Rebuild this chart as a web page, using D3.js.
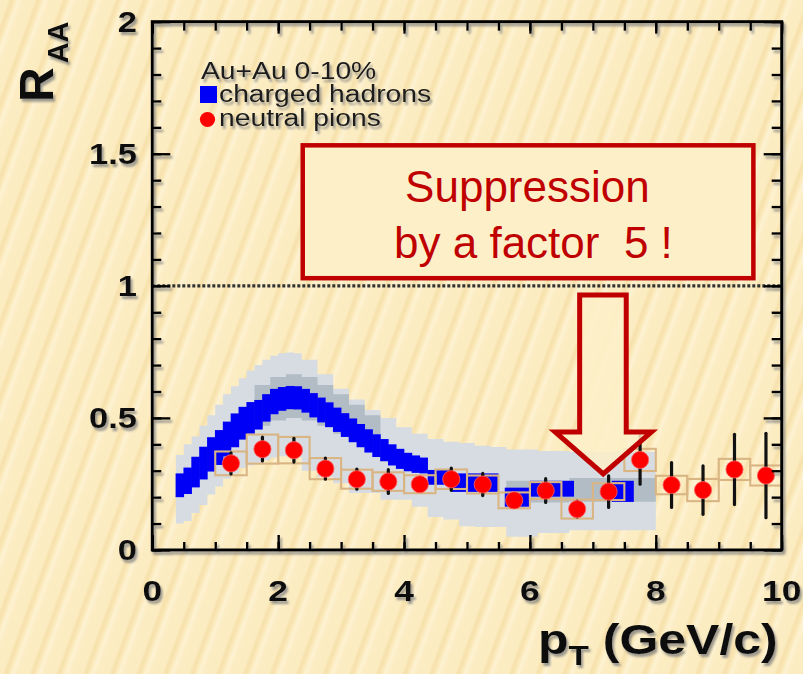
<!DOCTYPE html>
<html>
<head>
<meta charset="utf-8">
<script src="https://cdn.jsdelivr.net/npm/d3@7"></script>
<style>
  html, body { margin: 0; padding: 0; background: #fcecc0; }
  svg { display: block; }
  text { font-family: "Liberation Sans", Arial, Helvetica, sans-serif; }
</style>
</head>
<body>
<svg id="chart" width="803" height="674"></svg>
<script>
// ---- neutral pions (0.5 GeV/c bins) ----
const pionPt   = [1.25, 1.75, 2.25, 2.75, 3.25, 3.75, 4.25, 4.75, 5.25, 5.75, 6.25, 6.75, 7.25, 7.75, 8.25, 8.75, 9.25, 9.75];
const pionRaa  = [0.328, 0.382, 0.378, 0.308, 0.268, 0.259, 0.249, 0.268, 0.248, 0.188, 0.225, 0.155, 0.221, 0.341, 0.246, 0.227, 0.305, 0.282];
const pionStat = [0.040, 0.045, 0.045, 0.040, 0.038, 0.045, 0.020, 0.042, 0.042, 0.020, 0.045, 0.030, 0.060, 0.092, 0.085, 0.092, 0.133, 0.160];
const pionSys  = [0.045, 0.055, 0.050, 0.040, 0.036, 0.035, 0.034, 0.037, 0.034, 0.030, 0.032, 0.036, 0.032, 0.042, 0.035, 0.042, 0.040, 0.038];
const pionBinWidth = 0.5;

// ---- charged hadrons, fine bins ----
const hadronPt = [0.4375, 0.5625, 0.6875, 0.8125, 0.9375, 1.0625, 1.1875, 1.3125, 1.4375, 1.5625,
                  1.6875, 1.8125, 1.9375, 2.0625, 2.1875, 2.3125, 2.4375, 2.5625, 2.6875, 2.8125,
                  2.9375, 3.0625, 3.1875, 3.3125, 3.4375, 3.5625, 3.6875, 3.8125, 3.9375, 4.0625,
                  4.1875, 4.3125];
const hadronRaa = [0.245, 0.262, 0.295, 0.329, 0.362, 0.388, 0.420, 0.453, 0.480, 0.500,
                   0.512, 0.538, 0.562, 0.572, 0.577, 0.576, 0.565, 0.548, 0.530, 0.512,
                   0.493, 0.473, 0.453, 0.433, 0.413, 0.395, 0.378, 0.360, 0.345, 0.333,
                   0.325, 0.320];
const hadronStat = [0.045, 0.050, 0.058, 0.062, 0.065, 0.066, 0.066, 0.064, 0.062, 0.060,
                    0.056, 0.052, 0.048, 0.045, 0.044, 0.044, 0.045, 0.046, 0.047, 0.047,
                    0.046, 0.045, 0.045, 0.044, 0.044, 0.043, 0.042, 0.040, 0.038, 0.035,
                    0.033, 0.030];
const hadronBinWidth = 0.125;

// ---- charged hadrons, coarse bins (low/high edges) ----
const hadronHiLo   = [4.375, 4.75, 5.6, 6.0, 7.3];
const hadronHiHi   = [4.75, 5.5, 6.0, 6.7, 7.65];
const hadronHiRaa  = [0.275, 0.255, 0.200, 0.232, 0.222];
const hadronHiStat = [0.028, 0.035, 0.036, 0.030, 0.040];

// ---- charged hadron systematic band (outer), step edges ----
const bandEdge = [0.375, 0.5, 0.625, 0.75, 0.875, 1.0, 1.125, 1.25, 1.375, 1.5, 1.625, 1.75, 1.875, 2.0,
                  2.125, 2.25, 2.375, 2.625, 2.875, 3.125, 3.375, 3.625, 3.875, 4.125, 4.375, 4.625,
                  4.875, 5.125, 5.375, 5.625, 6.125, 6.625, 8.0];
const bandLo = [0.100, 0.110, 0.140, 0.170, 0.210, 0.240, 0.270, 0.290, 0.310, 0.320, 0.330, 0.340,
                0.350, 0.355, 0.355, 0.350, 0.300, 0.275, 0.253, 0.216, 0.216, 0.190, 0.190, 0.164,
                0.125, 0.115, 0.090, 0.087, 0.087, 0.050, 0.064, 0.075];
const bandHi = [0.360, 0.400, 0.430, 0.470, 0.510, 0.550, 0.590, 0.620, 0.650, 0.680, 0.700, 0.720,
                0.735, 0.745, 0.748, 0.745, 0.720, 0.665, 0.610, 0.570, 0.530, 0.500, 0.465, 0.440,
                0.420, 0.410, 0.405, 0.395, 0.390, 0.380, 0.375, 0.372];

// ---- inner (darker) band segments ----
const innerEdgeA = [1.625, 1.875, 2.125, 2.375, 2.625, 2.875, 3.125, 3.375, 3.625];
const innerLoA   = [0.470, 0.490, 0.500, 0.490, 0.470, 0.440, 0.410, 0.370];
const innerHiA   = [0.625, 0.655, 0.665, 0.655, 0.625, 0.590, 0.550, 0.510];
const innerEdgeB = [5.625, 6.625, 8.0];
const innerLoB   = [0.180, 0.183];
const innerHiB   = [0.262, 0.273];

// ---- axis, legend and annotation text ----
const xLabel = "p", xLabelSub = "T", xLabelUnit = " (GeV/c)";
const yLabel = "R", yLabelSub = "AA";
const legendTitle = "Au+Au 0-10%";
const legendItems = ["charged hadrons", "neutral pions"];
const noteLines = ["Suppression", "by a factor  5 !"];
const xDomain = [0, 10], yDomain = [0, 2];

// ---------------------------------------------------------------
const svg = d3.select("#chart");
const W = 803, H = 674;
const plot = { left: 152.3, right: 781.7, top: 21.7, bottom: 550 };

const x = d3.scaleLinear().domain(xDomain).range([plot.left, plot.right]);
const y = d3.scaleLinear().domain(yDomain).range([plot.bottom, plot.top]);

const defs = svg.append("defs");

// soft diagonal stripes of the slide background
const grad = defs.append("linearGradient").attr("id", "stripeGrad")
  .attr("x1", 0).attr("x2", 1).attr("y1", 0).attr("y2", 0);
[[0, "#fcecc1"], [0.30, "#fcecc1"], [0.44, "#f6e0aa"], [0.56, "#fbe9ba"], [0.70, "#fdf2d2"], [0.84, "#fcedc5"], [1, "#fcecc1"]]
  .forEach(([o, c]) => grad.append("stop").attr("offset", o).attr("stop-color", c));
const pat = defs.append("pattern").attr("id", "stripes")
  .attr("patternUnits", "userSpaceOnUse").attr("width", 25).attr("height", 40)
  .attr("patternTransform", "rotate(20)");
pat.append("rect").attr("width", 25).attr("height", 40).attr("fill", "url(#stripeGrad)");

// grey drop shadow used by the black lettering
const f = defs.append("filter").attr("id", "shadow")
  .attr("x", "-20%").attr("y", "-20%").attr("width", "150%").attr("height", "160%");
f.append("feOffset").attr("in", "SourceAlpha").attr("dx", 2).attr("dy", 2.5).attr("result", "off");
f.append("feGaussianBlur").attr("in", "off").attr("stdDeviation", 0.9).attr("result", "blur");
f.append("feFlood").attr("flood-color", "#7d7d7d").attr("flood-opacity", 0.75);
f.append("feComposite").attr("in2", "blur").attr("operator", "in").attr("result", "sh");
const fm = f.append("feMerge");
fm.append("feMergeNode").attr("in", "sh");
fm.append("feMergeNode").attr("in", "SourceGraphic");

svg.append("rect").attr("width", W).attr("height", H).attr("fill", "url(#stripes)");

// ---- systematic bands (step shaped) ----
function stepRows(edges, lo, hi) {
  const rows = lo.map((v, i) => ({ p: edges[i], lo: v, hi: hi[i] }));
  rows.push({ p: edges[edges.length - 1], lo: lo[lo.length - 1], hi: hi[hi.length - 1] });
  return rows;
}
const stepArea = d3.area().curve(d3.curveStepAfter)
  .x(d => x(d.p)).y0(d => y(d.lo)).y1(d => y(d.hi));

const gData = svg.append("g");
gData.append("path").datum(stepRows(bandEdge, bandLo, bandHi))
  .attr("d", stepArea).attr("fill", "#d6dce2");
gData.append("path").datum(stepRows(innerEdgeA, innerLoA, innerHiA))
  .attr("d", stepArea).attr("fill", "#b2bcc5");
gData.append("path").datum(stepRows(innerEdgeB, innerLoB, innerHiB))
  .attr("d", stepArea).attr("fill", "#b2bcc5");

// ---- charged hadrons ----
const blue = "#0000f6";
gData.append("g").selectAll("rect").data(hadronPt).join("rect")
  .attr("x", (p) => x(p - hadronBinWidth / 2) - 0.3)
  .attr("width", () => x(hadronBinWidth) - x(0) + 0.6)
  .attr("y", (p, i) => y(hadronRaa[i] + hadronStat[i]))
  .attr("height", (p, i) => y(hadronRaa[i] - hadronStat[i]) - y(hadronRaa[i] + hadronStat[i]))
  .attr("fill", blue);
gData.append("g").selectAll("rect").data(hadronHiRaa).join("rect")
  .attr("x", (v, i) => x(hadronHiLo[i]))
  .attr("width", (v, i) => x(hadronHiHi[i]) - x(hadronHiLo[i]))
  .attr("y", (v, i) => y(v + hadronHiStat[i]))
  .attr("height", (v, i) => y(v - hadronHiStat[i]) - y(v + hadronHiStat[i]))
  .attr("fill", blue);

// ---- neutral pions: systematic boxes, error bars, markers ----
gData.append("g").selectAll("rect").data(pionPt).join("rect")
  .attr("x", p => x(p - pionBinWidth / 2))
  .attr("width", () => x(pionBinWidth) - x(0))
  .attr("y", (p, i) => y(pionRaa[i] + pionSys[i]))
  .attr("height", (p, i) => y(pionRaa[i] - pionSys[i]) - y(pionRaa[i] + pionSys[i]))
  .attr("fill", "none").attr("stroke", "#d9b584").attr("stroke-width", 2.1);
gData.append("g").selectAll("line").data(pionPt).join("line")
  .attr("x1", p => x(p)).attr("x2", p => x(p))
  .attr("y1", (p, i) => y(pionRaa[i] + pionStat[i]))
  .attr("y2", (p, i) => y(pionRaa[i] - pionStat[i]))
  .attr("stroke", "#111").attr("stroke-width", 3.2).attr("stroke-linecap", "round");
gData.append("g").selectAll("circle").data(pionPt).join("circle")
  .attr("cx", p => x(p)).attr("cy", (p, i) => y(pionRaa[i]))
  .attr("r", 8.6).attr("fill", "#ff0000")
  .attr("stroke", "#ff6060").attr("stroke-width", 0.8);

// ---- reference line at R_AA = 1 ----
svg.append("line")
  .attr("x1", x(xDomain[0])).attr("x2", x(xDomain[1]))
  .attr("y1", y(1)).attr("y2", y(1))
  .attr("stroke", "#333").attr("stroke-width", 3.4).attr("stroke-dasharray", "3,2");

// ---- frame and ticks ----
const gAxes = svg.append("g").attr("filter", "url(#shadow)");
function tickSet(axisFn, scale, count, size, transform) {
  gAxes.append("g").attr("transform", transform)
    .call(axisFn(scale).ticks(count).tickSizeInner(size).tickSizeOuter(0).tickFormat(""))
    .call(g => g.select(".domain").remove())
    .call(g => g.selectAll("line").attr("stroke", "#000").attr("stroke-width", 2.4));
}
// bottom
tickSet(d3.axisBottom, x, 20, -8, `translate(0,${plot.bottom})`);
tickSet(d3.axisBottom, x, 5, -15, `translate(0,${plot.bottom})`);
// top
tickSet(d3.axisTop, x, 20, -9, `translate(0,${plot.top})`);
tickSet(d3.axisTop, x, 5, -12, `translate(0,${plot.top})`);
// left
tickSet(d3.axisLeft, y, 20, -9, `translate(${plot.left},0)`);
tickSet(d3.axisLeft, y, 4, -18, `translate(${plot.left},0)`);
// right
tickSet(d3.axisRight, y, 20, -10, `translate(${plot.right},0)`);
tickSet(d3.axisRight, y, 4, -18, `translate(${plot.right},0)`);

gAxes.append("rect")
  .attr("x", plot.left).attr("y", plot.top)
  .attr("width", plot.right - plot.left).attr("height", plot.bottom - plot.top)
  .attr("fill", "none").attr("stroke", "#000").attr("stroke-width", 3);

// ---- tick labels ----
const gText = svg.append("g").attr("filter", "url(#shadow)").attr("fill", "#111");
const fmtY = d3.format("");
y.ticks(4).forEach(v => {
  gText.append("text")
    .attr("transform", `translate(137,${y(v)}) scale(1.15,1)`)
    .attr("text-anchor", "end").attr("dominant-baseline", "central")
    .attr("font-size", 30).attr("font-weight", "bold")
    .text(fmtY(v));
});
x.ticks(5).forEach(v => {
  gText.append("text")
    .attr("transform", `translate(${x(v)},601) scale(1.18,1)`)
    .attr("text-anchor", "middle")
    .attr("font-size", 30).attr("font-weight", "bold")
    .text(v);
});

// ---- axis titles ----
const yt = gText.append("text")
  .attr("transform", "translate(53,102) rotate(-90)")
  .attr("font-weight", "bold");
yt.append("tspan").attr("font-size", 48).text(yLabel);
yt.append("tspan").attr("font-size", 29).attr("dx", 4).attr("dy", 15).text(yLabelSub);

const xt = gText.append("text")
  .attr("transform", "translate(538,654) scale(1.19,1)")
  .attr("font-weight", "bold").style("white-space", "pre");
xt.append("tspan").attr("font-size", 42).text(xLabel);
xt.append("tspan").attr("font-size", 28).attr("dy", 11).text(xLabelSub);
xt.append("tspan").attr("font-size", 42).attr("dy", -11).text(xLabelUnit);

// ---- legend ----
const gLeg = svg.append("g");
gLeg.append("text").attr("filter", "url(#shadow)").attr("fill", "#1a1a1a")
  .attr("transform", "translate(201,79) scale(1.23,1)").attr("font-size", 23)
  .text(legendTitle);
gLeg.append("rect").attr("x", 200).attr("y", 86).attr("width", 17).attr("height", 17).attr("fill", blue);
gLeg.append("circle").attr("cx", 207.5).attr("cy", 119.5).attr("r", 7.6).attr("fill", "#ff0000");
legendItems.forEach((t, i) => {
  gLeg.append("text").attr("filter", "url(#shadow)").attr("fill", "#1a1a1a")
    .attr("transform", `translate(219,${102 + i * 23.5}) scale(1.23,1)`).attr("font-size", 23)
    .text(t);
});

// ---- annotation: box and hollow arrow ----
const red = "#c00000";
const noteBox = { p0: 2.39, p1: 9.55, r0: 1.029, r1: 1.532 };
svg.append("rect")
  .attr("x", x(noteBox.p0)).attr("y", y(noteBox.r1))
  .attr("width", x(noteBox.p1) - x(noteBox.p0)).attr("height", y(noteBox.r0) - y(noteBox.r1))
  .attr("fill", "#fdf0c9").attr("stroke", red).attr("stroke-width", 4.5);
noteLines.forEach((t, i) => {
  svg.append("text")
    .attr("x", x(5.96) + (i ? 6 : 0)).attr("y", 202 + i * 56)
    .attr("text-anchor", "middle").attr("font-size", 44).attr("fill", red)
    .style("white-space", "pre")
    .text(t);
});

const arrowPts = [[6.79, 0.965], [6.79, 0.447], [6.40, 0.447], [7.165, 0.288],
                  [7.93, 0.447], [7.53, 0.447], [7.53, 0.965]];
svg.append("path")
  .attr("d", d3.line().x(d => x(d[0])).y(d => y(d[1]))(arrowPts) + "Z")
  .attr("fill", "#fdf0c9").attr("fill-opacity", 0.85)
  .attr("stroke", red).attr("stroke-width", 5).attr("stroke-linejoin", "miter");
</script>
</body>
</html>
